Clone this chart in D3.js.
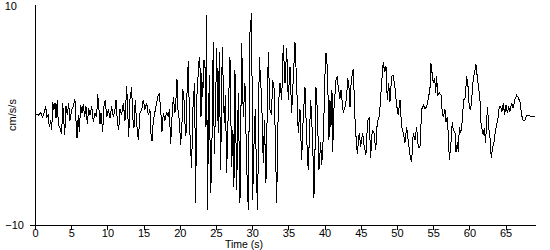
<!DOCTYPE html>
<html>
<head>
<meta charset="utf-8">
<script src="https://cdn.jsdelivr.net/npm/d3@7"></script>
<style>
  body { margin: 0; background: #fff; }
  text { font-family: "Liberation Sans", Arial, sans-serif; font-size: 11px; fill: #000; }
</style>
</head>
<body>
<svg id="chart" width="550" height="250"></svg>
<script>
// Data: time (s) and acceleration (cm/s/s)
const times = [
  0.00, 0.46, 0.79, 1.06, 1.24, 1.48, 1.62, 1.84, 1.97, 2.17, 2.31, 2.44, 2.62, 2.76, 2.90, 3.08, 3.22, 3.45, 3.69, 3.83,
  3.91, 4.10, 4.28, 4.46, 4.65, 4.83, 5.07, 5.29, 5.52, 5.66, 5.80, 5.98, 6.12, 6.31, 6.49, 6.67, 6.86, 7.04, 7.22, 7.42,
  7.60, 7.83, 8.05, 8.29, 8.52, 8.66, 8.84, 8.98, 9.12, 9.35, 9.53, 9.71, 9.90, 10.12, 10.36, 10.59, 10.81, 11.05, 11.19, 11.37,
  11.56, 11.74, 11.97, 12.19, 12.43, 12.66, 12.80, 12.94, 13.12, 13.35, 13.49, 13.67, 13.85, 14.04, 14.27, 14.50, 14.74, 14.96, 15.19, 15.43,
  15.65, 15.88, 16.02, 16.16, 16.34, 16.57, 16.81, 16.99, 17.17, 17.36, 17.54, 17.72, 17.95, 18.19, 18.41, 18.55, 18.74, 18.92, 19.10, 19.33,
  19.47, 19.61, 19.75, 19.93, 20.12, 20.30, 20.40, 20.58, 20.76, 20.85, 21.03, 21.17, 21.36, 21.50, 21.64, 21.78, 21.92, 22.05, 22.19, 22.33,
  22.47, 22.69, 22.79, 22.93, 23.02, 23.16, 23.34, 23.48, 23.62, 23.71, 23.80, 23.93, 24.07, 24.26, 24.40, 24.62, 24.76, 24.93, 25.09, 25.31,
  25.45, 25.64, 25.87, 26.14, 26.31, 26.47, 26.69, 26.93, 27.16, 27.34, 27.48, 27.62, 27.86, 28.08, 28.31, 28.55, 28.77, 29.00, 29.24, 29.46,
  29.69, 29.93, 30.06, 30.24, 30.42, 30.62, 30.75, 30.98, 31.31, 31.53, 31.69, 31.90, 32.22, 32.45, 32.66, 32.83, 33.05, 33.38, 33.60, 33.84,
  34.07, 34.29, 34.53, 34.76, 34.98, 35.22, 35.45, 35.91, 36.14, 36.36, 36.60, 36.83, 37.05, 37.29, 37.52, 37.74, 38.08, 38.35, 38.53, 38.67,
  38.81, 38.99, 39.22, 39.46, 39.60, 39.74, 39.92, 40.06, 40.19, 40.29, 40.43, 40.60, 40.74, 40.88, 41.02, 41.11, 41.29, 41.57, 41.75, 41.89,
  42.12, 42.26, 42.40, 42.58, 42.81, 43.05, 43.18, 43.37, 43.51, 43.68, 43.96, 44.10, 44.24, 44.52, 44.79, 44.98, 45.26, 45.48, 45.71, 45.95,
  46.17, 46.36, 46.58, 46.82, 47.06, 47.27, 47.51, 47.65, 47.88, 48.10, 48.30, 48.48, 48.66, 48.85, 49.03, 49.26, 49.48, 49.72, 49.95, 50.17,
  50.41, 50.64, 50.86, 51.10, 51.33, 51.55, 51.79, 52.02, 52.25, 52.48, 52.71, 52.94, 53.17, 53.41, 53.63, 53.86, 54.10, 54.32, 54.55, 54.69,
  54.83, 55.01, 55.20, 55.34, 55.48, 55.62, 55.84, 56.08, 56.22, 56.39, 56.63, 56.77, 56.95, 57.13, 57.22, 57.42, 57.64, 57.78, 58.01, 58.15,
  58.33, 58.47, 58.61, 58.80, 58.94, 59.07, 59.25, 59.43, 59.62, 59.80, 59.98, 60.18, 60.31, 60.53, 60.77, 60.91, 61.08, 61.27, 61.46, 61.59,
  61.73, 61.91, 62.05, 62.24, 62.38, 62.52, 62.66, 62.84, 63.02, 63.21, 63.39, 63.57, 63.77, 63.95, 64.12, 64.32, 64.50, 64.68, 64.87, 65.05,
  65.23, 65.42, 65.60, 65.83, 66.05, 66.29, 66.52, 66.74, 66.98, 67.21, 67.43, 67.67, 67.90, 68.12, 68.36, 68.82, 69.05
];
const accel = [
  0.1, 0.0, 0.2, -0.2, 0.2, 0.8, -0.2, 0.0, -1.1, -0.5, -1.4, 1.2, 0.5, 1.1, -0.3, 1.4, -0.8, -1.2, -1.7, 1.1,
  0.2, -1.8, 0.8, 0.0, 1.1, -0.5, 0.5, 0.8, 1.4, -0.5, -2.1, 0.0, -1.5, 0.9, 0.2, 1.0, -0.2, 0.8, -0.8, 0.6,
  0.0, 0.8, -0.6, 0.2, -0.2, 1.9, 0.5, -0.8, 0.2, -1.5, 0.8, 1.4, -0.2, 0.5, -0.3, 0.8, -0.2, 0.5, 1.4, -0.5,
  -1.4, 0.5, 0.0, 1.1, -0.5, 2.6, 0.5, -2.0, 1.4, 2.5, -0.2, -1.2, 1.4, -0.8, -2.3, 0.2, 0.5, 1.4, 0.5, 1.1,
  0.0, 0.5, -1.7, -2.4, -0.5, 0.3, 1.1, 1.7, 2.0, 0.5, -1.5, 0.2, -0.5, 0.3, -0.2, 0.5, -2.6, -0.2, 1.6, 0.2,
  1.4, 3.3, 0.5, -0.5, -2.7, -0.8, 2.4, 1.4, -1.4, -1.9, 2.9, 4.9, -1.1, -3.2, -4.8, 0.2, 1.8, 2.9, -8.0, 1.4,
  3.0, 5.3, 4.3, -0.2, 3.8, 1.6, 5.0, 4.4, -1.1, 9.1, -8.6, -3.2, 3.6, -7.1, -4.7, 6.6, -3.5, 0.5, 6.1, -1.6,
  5.7, -5.0, 6.2, -0.7, 1.8, -5.3, 0.2, 5.3, -4.7, -1.4, -6.5, 4.1, -6.8, 2.0, -8.0, 6.5, -0.2, 2.9, -4.7, -8.6,
  7.5, 9.3, -7.7, -2.9, 0.5, -6.2, -8.6, 5.3, 1.4, -4.4, -0.5, -6.2, 5.7, 0.5, 0.0, 3.2, 2.3, -8.0, 0.7, 2.9,
  1.4, 6.4, 2.9, 6.1, 1.4, 4.4, 0.2, 6.6, 2.9, -1.6, 0.5, -4.1, -0.2, 2.5, -2.0, -5.0, 1.4, -2.3, -7.5, -3.5,
  2.5, 0.5, -5.0, -2.5, -4.5, -3.2, 0.2, 3.8, 5.6, 5.3, 3.2, -2.3, 1.4, -1.1, 2.3, -3.4, 0.5, 3.2, 3.5, 2.5,
  1.5, 2.3, 1.4, 0.2, 0.7, 1.6, 3.4, 2.5, 0.7, 3.2, 4.2, 1.6, -1.1, -3.5, -1.6, -2.9, -1.6, -2.9, -3.6, -0.5,
  -0.3, -3.9, -1.4, -1.6, -3.2, -0.7, -0.2, 0.7, 2.9, 4.8, 3.9, 4.4, 1.4, 2.9, 1.2, 3.5, 3.6, 2.5, 0.9, 0.0,
  1.4, -1.1, -1.6, -2.5, -1.1, -2.3, -3.6, -4.3, -1.6, -2.3, -1.1, -2.9, -3.0, 0.5, 0.9, 0.6, 0.7, 1.5, 2.3, 4.7,
  3.9, 2.9, 3.4, 2.0, 3.5, 1.8, 2.0, 1.8, 0.5, -0.2, 0.5, -0.6, -0.2, -2.3, -4.1, -2.9, -0.6, -1.4, -1.6, -3.4,
  -2.5, -3.4, -1.1, -1.6, -1.1, 0.2, 1.4, 1.6, 3.5, 2.7, 0.7, 0.5, 1.4, 3.2, 4.1, 4.6, 3.5, 2.5, 1.4, -0.7,
  -1.2, -1.8, -1.2, -2.5, -0.5, 0.7, -1.1, -2.0, -3.9, -2.9, -2.5, -1.6, -0.9, -0.3, 0.7, 0.8, 0.3, 1.1, 0.0, 0.9,
  0.2, 0.7, 0.3, 1.1, 0.6, 1.4, 1.8, 1.6, 1.2, 0.0, -0.5, -0.5, 0.0, 0.0, -0.1, -0.1, -0.1
];
const xTicks = [0, 5, 10, 15, 20, 25, 30, 35, 40, 45, 50, 55, 60, 65];
const yTicks = [-10, 10];

const svg = d3.select("#chart");

const x = d3.scaleLinear().domain([0, 69.2]).range([35, 536]);
const y = d3.scaleLinear().domain([-10, 10]).range([225, 5]);

const data = times.map((t, i) => ({ t: t, v: accel[i] }));

// axis lines
svg.append("line")
    .attr("x1", 35.5).attr("x2", 35.5)
    .attr("y1", 5).attr("y2", 225)
    .attr("stroke", "#000").attr("shape-rendering", "crispEdges");
svg.append("line")
    .attr("x1", 30).attr("x2", 536)
    .attr("y1", 225.5).attr("y2", 225.5)
    .attr("stroke", "#000").attr("shape-rendering", "crispEdges");

// x axis ticks + labels
const xAxis = svg.append("g")
    .attr("transform", "translate(0,225)")
    .call(d3.axisBottom(x).tickValues(xTicks).tickSize(5).tickPadding(-1).tickFormat(d3.format("d")));
xAxis.select(".domain").remove();
xAxis.selectAll("line").attr("shape-rendering", "crispEdges");
xAxis.selectAll("text").attr("font-family", null).attr("font-size", null);

// y axis labels only
const yAxis = svg.append("g")
    .attr("transform", "translate(35,0)")
    .call(d3.axisLeft(y).tickValues(yTicks).tickSize(0).tickPadding(11).tickFormat(d3.format("d")));
yAxis.select(".domain").remove();
yAxis.selectAll("text").attr("font-family", null).attr("font-size", null)
    .attr("dx", d => d === 10 ? -7 : 0)
    .attr("dy", d => d === 10 ? "0.45em" : "0.32em");

// trace (aliased, like the original plot)
const line = d3.line().x(d => x(d.t)).y(d => y(d.v));
svg.append("path")
    .datum(data)
    .attr("d", line)
    .attr("fill", "none")
    .attr("stroke", "#000")
    .attr("stroke-width", 1)
    .attr("shape-rendering", "crispEdges");

// labels
svg.append("text")
    .attr("x", 244).attr("y", 248)
    .attr("text-anchor", "middle")
    .style("font-size", "10.5px")
    .text("Time (s)");

svg.append("text")
    .attr("transform", "translate(16,115) rotate(-90)")
    .attr("text-anchor", "middle")
    .text("cm/s/s");
</script>
</body>
</html>
